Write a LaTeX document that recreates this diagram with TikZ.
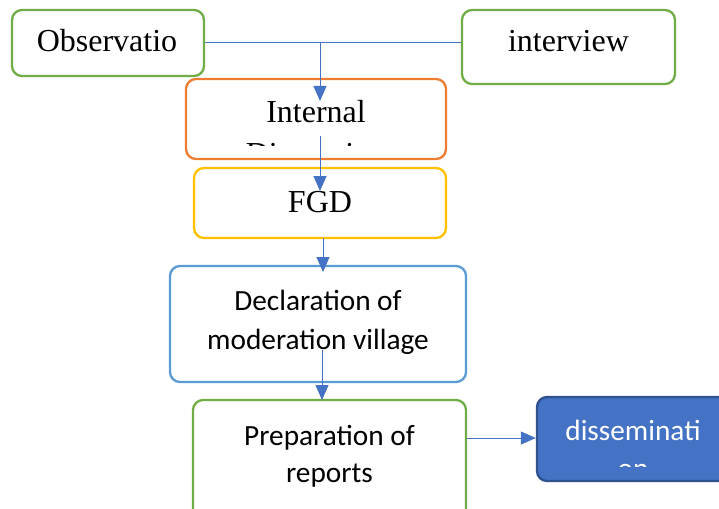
\documentclass[tikz,border=0pt]{standalone}
\usepackage{fontspec}
\setmainfont{Liberation Serif}
\newfontfamily\carlitofont{Carlito}
\usetikzlibrary{arrows.meta}
\definecolor{cgreen}{HTML}{70AD47}
\definecolor{corange}{HTML}{ED7D31}
\definecolor{cyellow}{HTML}{FFC000}
\definecolor{clblue}{HTML}{5B9BD5}
\definecolor{cblue}{HTML}{4472C4}
\definecolor{cdark}{HTML}{2F528F}
\tikzset{
  box/.style={draw, rounded corners=10pt, line width=2.3pt, inner sep=0pt, fill=white},
  conn/.style={draw=cblue, line width=0.9pt},
  arr/.style={conn, -{Triangle[width=13pt,length=15pt]}, cblue},
  serif/.style={font=\fontsize{32}{36}\selectfont, anchor=base, inner sep=0pt},
  sans/.style={font=\carlitofont\fontsize{29.3}{34}\selectfont, anchor=base, inner sep=0pt},
}
\begin{document}
\begin{tikzpicture}[x=1pt,y=-1pt]
\useasboundingbox (0,0) rectangle (719,508);
\clip (0,0) rectangle (719,508);
% boxes
\node[box, draw=cgreen, minimum width=192pt, minimum height=66pt] (obs) at (108,43) {};
\node[box, draw=cgreen, minimum width=213pt, minimum height=74pt] (int) at (568.5,47) {};
\node[box, draw=corange, minimum width=260pt, minimum height=80pt] (disc) at (316,119) {};
\node[box, draw=cyellow, minimum width=252pt, minimum height=70pt] (fgd) at (320,203) {};
\node[box, draw=clblue, minimum width=296pt, minimum height=116pt] (decl) at (318,324) {};
\node[box, draw=cgreen, minimum width=273pt, minimum height=124pt] (prep) at (329.5,462) {};
\node[box, draw=cdark, fill=cblue, minimum width=200pt, minimum height=84pt] (diss) at (637,439) {};
% texts
\node[serif] (tobs) at (107,52) {Observatio};
\node[serif] (tint) at (568.5,52) {interview};
\begin{scope}
\clip (186,80) rectangle (446,145.5);
\node[serif] (tdisc1) at (316,122) {Internal};
\node[serif] (tdisc2) at (316,164) {Discussion};
\end{scope}
\node[serif] (tfgd) at (320,212) {FGD};
\node[sans] (tdecl1) at (318,310) {Declaration of};
\node[sans] (tdecl2) at (318,349) {moderation village};
\node[sans] (tprep1) at (329.5,445) {Preparation of};
\node[sans] (tprep2) at (329.5,482) {reports};
\begin{scope}
\clip (537,398) rectangle (719,466);
\node[sans, text=white] (tdiss1) at (633,440) {disseminati};
\node[sans, text=white] (tdiss2) at (633,478) {on};
\end{scope}
% connectors
\coordinate (j) at (320,42);
\coordinate (a1) at (320,101);
\coordinate (b0) at (320,136);
\coordinate (b1) at (320,191);
\coordinate (c0) at (323,238);
\coordinate (c1) at (323,272);
\coordinate (d0) at (322,350);
\coordinate (d1) at (322,400);
\draw[conn] (obs.east |- j) -- (int.west |- j);
\draw[arr] (j) -- (a1);
\draw[arr] (b0) -- (b1);
\draw[arr] (c0) -- (c1);
\draw[arr] (d0) -- (d1);
\draw[arr] (prep.east |- 0,438) -- (diss.west |- 0,438);
\end{tikzpicture}
\end{document}
